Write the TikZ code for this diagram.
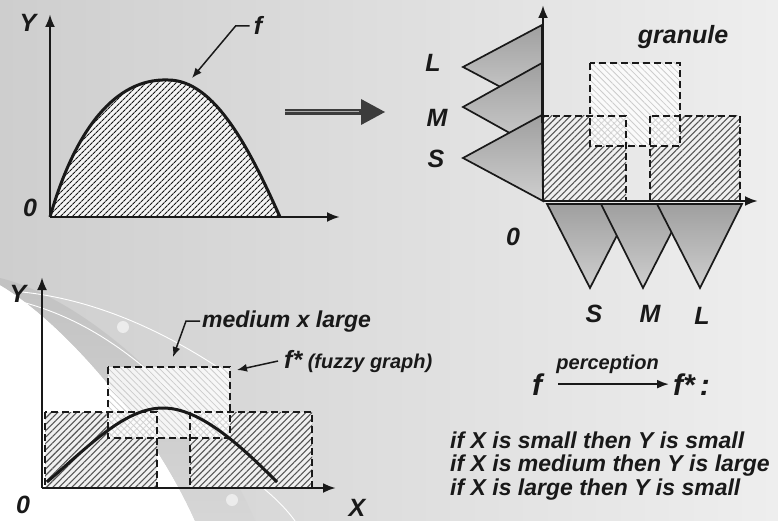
\documentclass[tikz,border=0pt]{standalone}
\usepackage{fontspec}
\setmainfont{Liberation Sans}
\usetikzlibrary{arrows.meta, patterns.meta, positioning}
\definecolor{bgDark}{RGB}{206,206,206}
\definecolor{bgLight}{RGB}{238,238,238}
\definecolor{bandGray}{RGB}{178,178,178}
\definecolor{hatchGray}{RGB}{85,85,85}
\definecolor{inkBlack}{RGB}{25,25,25}

\begin{document}
\begin{tikzpicture}[x=1pt, y=-1pt,
		axis_line/.style  = {line width=2.8pt, draw=inkBlack, -{Latex[length=13pt,width=10pt]}},
		lbl_big/.style    = {font=\fontsize{25}{25}\selectfont\bfseries\itshape, text=inkBlack, inner sep=0pt, anchor=base},
		lbl_mid/.style    = {font=\fontsize{23}{23}\selectfont\bfseries\itshape, text=inkBlack, inner sep=0pt, anchor=base west},
		lbl_small/.style  = {font=\fontsize{20}{20}\selectfont\bfseries\itshape, text=inkBlack, inner sep=0pt},
		lbl_huge/.style   = {font=\fontsize{30}{30}\selectfont\bfseries\itshape, text=inkBlack, inner sep=0pt, anchor=base},
		leader/.style     = {line width=1.5pt, draw=inkBlack, -{Latex[length=10pt,width=8pt]}},
		mf_tri/.style     = {draw=inkBlack, line width=1.7pt, top color=gray!75, bottom color=gray!38},
		grain_fill/.style = {fill=gray!12, postaction={pattern={Lines[angle=45,distance=4.5pt,line width=1.1pt]}, pattern color=hatchGray}},
		grain_pale/.style = {fill=white, fill opacity=0.8, postaction={pattern={Lines[angle=-45,distance=4.5pt,line width=0.8pt]}, pattern color=gray!40}},
		grain_edge/.style = {draw=inkBlack, line width=1.8pt, dash pattern=on 7pt off 4pt},
		curve_line/.style = {draw=inkBlack, line width=3pt}
	]
	\useasboundingbox (0,0) rectangle (778,521);
	
	% background
	\shade[left color=bgDark, right color=bgLight] (0,0) rectangle (778,521);
	\fill[white] (0,285) .. controls (60,320) and (150,420) .. (195,521) -- (0,521) -- cycle;
	\shade[top color=gray!48, bottom color=gray!32] (0,278) .. controls (90,300) and (210,410) .. (255,521)
	-- (195,521) .. controls (150,420) and (60,320) .. (0,285) -- cycle;
	\draw[white, line width=0.9pt] (22,292) .. controls (100,300) and (170,335) .. (225,372);
	\draw[white, line width=0.9pt] (22,302) .. controls (90,320) and (140,360) .. (185,405);
	\draw[white, line width=0.9pt] (225,460) .. controls (255,480) and (280,500) .. (295,521);
	\fill[white!85!gray] (123,327) circle (6);
	\fill[white!85!gray] (232,500) circle (6);
	
	% f : the crisp function
	\coordinate (o1) at (50,217);
	\path[fill=gray!8, postaction={pattern={Lines[angle=45,distance=4pt,line width=1.1pt]}, pattern color=inkBlack}]
	(50,217) .. controls (75,130) and (115,78) .. (168,80) .. controls (215,80) and (250,150) .. (280,217) -- cycle;
	\draw[curve_line] (50,217) .. controls (75,130) and (115,78) .. (168,80) .. controls (215,80) and (250,150) .. (280,217);
	\draw[axis_line] (o1) -- (50,14);
	\draw[axis_line] (o1) -- (340,217);
	\node[lbl_big] (y1) at (28,32) {Y};
	\node[lbl_big] (zero1) at (30,217) {0};
	\node[lbl_big] (f1) at (258,35) {f};
	\coordinate (fpeak) at (192,78);
	\draw[leader] ([xshift=-4pt]f1.west) -- ++(-14,0) -- (fpeak);
	
	% implication arrow
	\coordinate (impA) at (285,112);
	\coordinate (impB) at (385,112);
	\draw[line width=6pt, draw=inkBlack!85, -{Triangle[length=24pt,width=26pt,line width=0pt]}] (impA) -- (impB);
	\draw[line width=1pt, draw=gray!65, shorten >=26pt] (impA) -- (impB);
	
	% granulation
	\coordinate (o2) at (543,201);
	\draw[mf_tri] (542,25) -- (463,67) -- (542,109) -- cycle;
	\draw[mf_tri] (542,63) -- (463,107) -- (542,151) -- cycle;
	\draw[mf_tri] (542,115) -- (463,158) -- (543,201) -- cycle;
	\draw[mf_tri] (547,204) -- (633,204) -- (590,288) -- cycle;
	\draw[mf_tri] (601,204) -- (686,204) -- (643,288) -- cycle;
	\draw[mf_tri] (657,204) -- (742,204) -- (700,288) -- cycle;
	
	\path[grain_fill] (543,116) rectangle (626,201);
	\path[grain_fill] (650,116) rectangle (740,201);
	\path[grain_pale] (590,63) rectangle (680,146);
	\draw[grain_edge] (543,116) rectangle (626,201);
	\draw[grain_edge] (650,116) rectangle (740,201);
	\draw[grain_edge] (590,63) rectangle (680,146);
	
	\draw[axis_line] (o2) -- (543,5);
	\draw[axis_line] (o2) -- (758,201);
	\node[lbl_big] (yL) at (433,72) {L};
	\node[lbl_big] (yM) at (437,127) {M};
	\node[lbl_big] (yS) at (436,168) {S};
	\node[lbl_big] (zero2) at (513,245) {0};
	\node[lbl_big] (xS) at (594,322) {S};
	\node[lbl_big] (xM) at (650,322) {M};
	\node[lbl_big] (xL) at (702,324) {L};
	\node[lbl_big] (granule) at (683,44) {granule};
	
	% f* : the fuzzy graph
	\coordinate (o3) at (42,488);
	\path[grain_fill] (45,412) rectangle (157,488);
	\path[grain_fill] (190,412) rectangle (312,488);
	\path[grain_pale] (108,367) rectangle (230,438);
	\draw[grain_edge] (45,412) rectangle (157,488);
	\draw[grain_edge] (190,412) rectangle (312,488);
	\draw[grain_edge] (108,367) rectangle (230,438);
	\draw[curve_line] (47,482) .. controls (90,445) and (125,408) .. (163,408) .. controls (200,408) and (240,445) .. (277,482);
	\draw[axis_line] (o3) -- (42,277);
	\draw[axis_line] (o3) -- (336,488);
	\node[lbl_big] (y3) at (18,302) {Y};
	\node[lbl_big] (zero3) at (23,513) {0};
	\node[lbl_big] (x3) at (357,516) {X};
	
	\node[lbl_mid] (medium) at (202,327) {medium x large};
	\node[lbl_small, anchor=base west] (fuzzy) at (284,368) {{\fontsize{25}{25}\selectfont f*} (fuzzy graph)};
	\coordinate (medtip) at (173,357);
	\coordinate (fuzztip) at (237,370);
	\draw[leader] ([xshift=-2pt]medium.west) -- ++(-14,0) -- (medtip);
	\draw[leader] ([xshift=-6pt]fuzzy.west) -- (fuzztip);
	
	% perception rules
	\node[lbl_huge] (fcrisp) at (537,395) {f};
	\node[lbl_huge, anchor=base west] (fstar) at (673,395) {f*\,:};
	\draw[line width=2pt, draw=inkBlack, -{Latex[length=12pt,width=9pt]}, shorten <=16pt, shorten >=4pt]
	(fcrisp) -- node[lbl_small, above=9pt] (perc) {perception} (fstar);
	
	\node[lbl_mid] (rule1) at (450,448) {if X is small then Y is small};
	\node[lbl_mid] (rule2) at (450,471) {if X is medium then Y is large};
	\node[lbl_mid] (rule3) at (450,495) {if X is large then Y is small};
\end{tikzpicture}
\end{document}
